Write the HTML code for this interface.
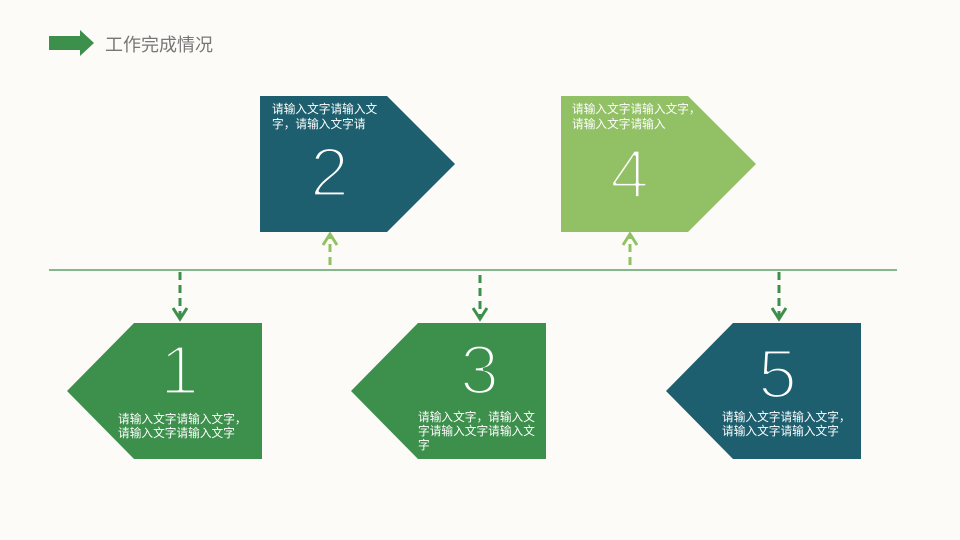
<!DOCTYPE html>
<html><head><meta charset="utf-8"><style>
body{margin:0;background:#fcfbf8;}
svg{display:block}
.t{font-family:"Liberation Sans","Noto Sans CJK SC",sans-serif;font-size:11.7px;fill:#fff}
.n{font-family:"Liberation Sans",sans-serif;font-size:70px;fill:#fff;stroke-width:3.3;stroke-linejoin:round}
</style></head><body>
<svg width="960" height="540" viewBox="0 0 960 540">
<rect width="960" height="540" fill="#fcfbf8"/>
<polygon points="49,36 80,36 80,30 94,43 80,56 80,50 49,50" fill="#3d8f4c"/>
<text x="105" y="51" font-family="Liberation Sans,'Noto Sans CJK SC',sans-serif" font-size="18" fill="#777">工作完成情况</text>
<line x1="49" y1="270" x2="897" y2="270" stroke="#3d8f4c" stroke-width="1.2"/>
<g stroke-width="3" fill="none">
<g stroke="#3d8f4c"><line x1="180" y1="272" x2="180" y2="318" stroke-dasharray="8,5"/><polyline points="173,308 180,319 187,308"/>
<line x1="480" y1="275" x2="480" y2="318" stroke-dasharray="8,5"/><polyline points="473,308 480,319 487,308"/>
<line x1="779" y1="272" x2="779" y2="318" stroke-dasharray="8,5"/><polyline points="772,308 779,319 786,308"/></g>
<g stroke="#92c065"><line x1="330" y1="265" x2="330" y2="236" stroke-dasharray="8,5"/><polyline points="323,245 330,234 337,245"/>
<line x1="630" y1="265" x2="630" y2="236" stroke-dasharray="8,5"/><polyline points="623,245 630,234 637,245"/></g>
</g>
<polygon points="260,96 387,96 455,164 387,232 260,232" fill="#1d5f6e"/>
<polygon points="561,96 688,96 756,164 688,232 561,232" fill="#92c065"/>
<polygon points="134,323 262,323 262,459 134,459 67,391" fill="#3d8f4c"/>
<polygon points="418,323 546,323 546,459 418,459 351,391" fill="#3d8f4c"/>
<polygon points="733,323 861,323 861,459 733,459 666,391" fill="#1d5f6e"/>
<text class="t" x="272" y="113">请输入文字请输入文</text><text class="t" x="272" y="128">字，请输入文字请</text>
<text class="n" x="310" y="196" stroke="#1d5f6e">2</text>
<text class="t" x="572" y="113">请输入文字请输入文字，</text><text class="t" x="572" y="128">请输入文字请输入</text>
<text class="n" x="610" y="198" stroke="#92c065">4</text>
<text class="n" x="160" y="394" stroke="#3d8f4c">1</text>
<text class="t" x="118" y="423">请输入文字请输入文字，</text><text class="t" x="118" y="437">请输入文字请输入文字</text>
<text class="n" x="460" y="394" stroke="#3d8f4c">3</text>
<text class="t" x="418" y="421">请输入文字，请输入文</text><text class="t" x="418" y="435">字请输入文字请输入文</text><text class="t" x="418" y="449">字</text>
<text class="n" x="758" y="398" stroke="#1d5f6e">5</text>
<text class="t" x="722" y="421">请输入文字请输入文字，</text><text class="t" x="722" y="435">请输入文字请输入文字</text>
</svg>
</body></html>
